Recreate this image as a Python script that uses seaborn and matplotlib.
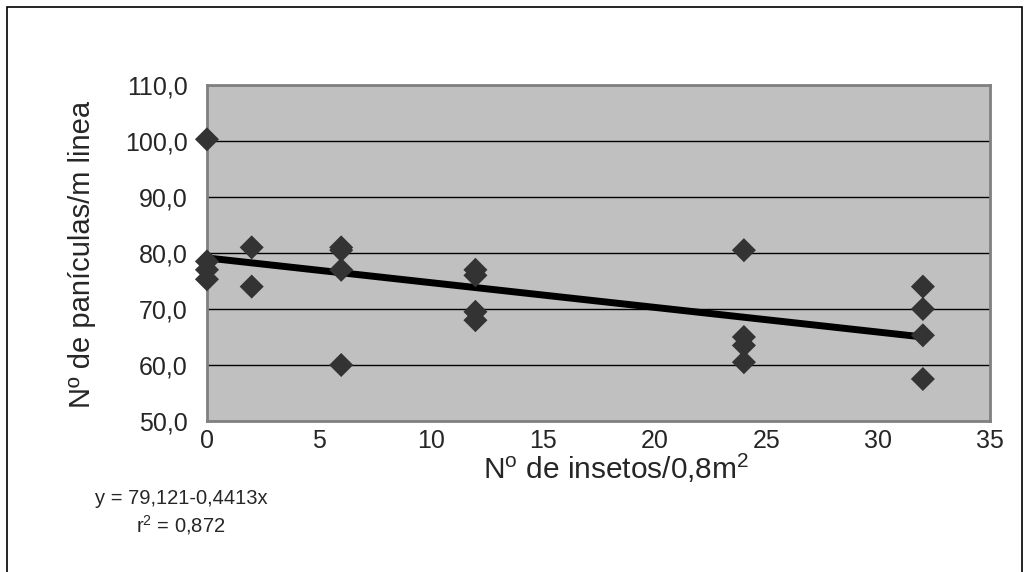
import numpy as np
import pandas as pd
import matplotlib
matplotlib.use('Agg')
import matplotlib.pyplot as plt
import seaborn as sns

# dados
insetos = [0, 0, 0, 0, 2, 2, 6, 6, 6, 6, 12, 12, 12, 12, 24, 24, 24, 24, 32, 32, 32, 32]
paniculas = [100.3, 78.5, 77.0, 75.3, 81.0, 74.0, 81.0, 80.5, 77.0, 60.0,
             77.0, 76.0, 69.5, 68.0, 80.5, 65.0, 63.5, 60.5, 74.0, 70.0, 65.3, 57.5]

# equação da regressão
intercepto = 79.121
inclinacao = -0.4413
r2_texto = '0,872'

y_ticks = [50, 60, 70, 80, 90, 100, 110]
x_ticks = [0, 5, 10, 15, 20, 25, 30, 35]

df = pd.DataFrame({'insetos': insetos, 'paniculas': paniculas})
x_reta = np.array([min(insetos), max(insetos)])
reta = pd.DataFrame({'x': x_reta, 'y': intercepto + inclinacao * x_reta})

sns.set_style('white')
plt.rcParams['font.family'] = ['Liberation Sans', 'DejaVu Sans']
plt.rcParams['mathtext.fontset'] = 'custom'
plt.rcParams['mathtext.rm'] = 'Liberation Sans'
plt.rcParams['mathtext.it'] = 'Liberation Sans'

fig = plt.figure(figsize=(10.24, 5.72), dpi=100)
ax = fig.add_axes([0.2021, 0.2640, 0.7647, 0.5874])
ax.set_facecolor('#c0c0c0')

for v in y_ticks[1:]:
    ax.axhline(v, color='black', lw=1, zorder=1)

sns.lineplot(data=reta, x='x', y='y', color='black', linewidth=5, ax=ax, zorder=2)
sns.scatterplot(data=df, x='insetos', y='paniculas', marker='D', s=150,
                color='#333333', edgecolor='none', ax=ax, zorder=3, clip_on=False)

ax.set_xlim(0, 35)
ax.set_ylim(50, 110)
ax.set_xticks(x_ticks)
ax.set_yticks(y_ticks)
ax.set_yticklabels([f'{v:.1f}'.replace('.', ',') for v in y_ticks])
ax.tick_params(axis='both', labelsize=18, length=0)
ax.tick_params(axis='y', pad=14)
ax.tick_params(axis='x', pad=6)
ax.set_xlabel('')
ax.set_ylabel('')
for s in ax.spines.values():
    s.set_color('#808080')
    s.set_linewidth(2)

fig.text(82 / 1024, 1 - 254 / 572, 'Nº de panículas/m linea', rotation=90,
         ha='center', va='center', fontsize=21)
fig.text(616 / 1024, 1 - 468 / 572, r'N$^{\mathrm{o}}$ de insetos/0,8m$^{2}$',
         ha='center', va='center', fontsize=21.5)
fig.text(181 / 1024, 1 - 498 / 572, 'y = 79,121-0,4413x', ha='center', va='center', fontsize=14.5)
fig.text(181 / 1024, 1 - 525 / 572, r'r$^{2}$ = ' + r2_texto, ha='center', va='center', fontsize=14.5)

# moldura do gráfico
fig.patches.append(plt.Rectangle((7 / 1024, -0.05), 1015 / 1024, 1 - 7 / 572 + 0.05,
                                 transform=fig.transFigure, fill=False,
                                 edgecolor='black', linewidth=1.2))

fig.savefig('out.png', dpi=100)
